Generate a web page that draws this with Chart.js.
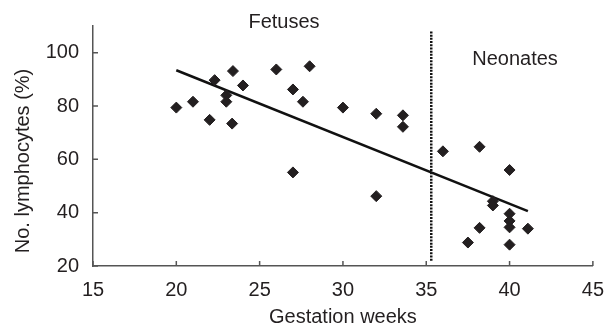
<!DOCTYPE html>
<html>
<head>
<meta charset="utf-8">
<script src="https://cdn.jsdelivr.net/npm/chart.js@4"></script>
<style>
  body { margin: 0; background: #fff; }
  canvas { display: block; }
</style>
</head>
<body>
<canvas id="lymph" width="616" height="331"></canvas>
<script>
// values
const weeks = [20, 21, 22, 22.3, 23.4, 23, 23, 23.35, 24, 26, 28, 27, 27.6, 27, 30, 32, 32, 33.6, 33.6,
               36, 38.2, 40, 39, 39, 40, 40, 40, 41.1, 38.2, 37.5, 40];
const lymphocytes = [79.4, 81.6, 74.8, 89.7, 93.1, 84.0, 81.6, 73.4, 87.7, 93.7, 94.9, 86.2, 81.6, 55.1, 79.4, 77.1, 46.2, 76.5, 72.2,
                     63.0, 64.7, 56.0, 44.3, 42.7, 39.6, 36.9, 34.5, 34.0, 34.3, 28.8, 28.0];
const trendWeeks = [20, 41.1];
const trendValues = [93.4, 40.6];
const dividerWeek = 35.3;
const dividerRange = [22, 108];
const xTicks = [15, 20, 25, 30, 35, 40, 45];
const yTicks = [20, 40, 60, 80, 100];
const groupLabels = ['Fetuses', 'Neonates'];

const ink = '#231f20';
const font = "'Liberation Sans', Arial, sans-serif";

// ticks in this figure point into the plot, so draw them by hand
const innerTicks = {
    id: 'innerTicks',
    afterDatasetsDraw(chart) {
        const ctx = chart.ctx;
        const {x, y} = chart.scales;
        ctx.save();
        ctx.strokeStyle = '#555';
        ctx.lineWidth = 1.5;
        ctx.beginPath();
        xTicks.forEach(v => {
            const px = x.getPixelForValue(v);
            ctx.moveTo(px, y.bottom);
            ctx.lineTo(px, y.bottom - 5);
        });
        yTicks.forEach(v => {
            const py = y.getPixelForValue(v);
            ctx.moveTo(x.left, py);
            ctx.lineTo(x.left + 5, py);
        });
        ctx.stroke();

        ctx.fillStyle = ink;
        ctx.font = '20px ' + font;
        ctx.textAlign = 'center';
        ctx.textBaseline = 'alphabetic';
        ctx.fillText(groupLabels[0], 284, 28);
        ctx.fillText(groupLabels[1], 515, 65);

        // y title sits a bit below the middle of the axis
        ctx.translate(29, 161);
        ctx.rotate(-Math.PI / 2);
        ctx.fillText('No. lymphocytes (%)', 0, 0);
        ctx.restore();
    }
};

new Chart(document.getElementById('lymph'), {
    type: 'scatter',
    data: {
        datasets: [{
            label: 'Lymphocytes',
            data: weeks.map((w, i) => ({x: w, y: lymphocytes[i]})),
            pointStyle: 'rectRot',
            pointRadius: 5.5,
            pointBackgroundColor: ink,
            pointBorderColor: ink,
            pointBorderWidth: 1
        }, {
            label: 'Trend',
            data: trendWeeks.map((w, i) => ({x: w, y: trendValues[i]})),
            showLine: true,
            pointRadius: 0,
            borderColor: '#111',
            borderWidth: 2.5
        }, {
            label: 'Divider',
            data: dividerRange.map(v => ({x: dividerWeek, y: v})),
            showLine: true,
            pointRadius: 0,
            borderColor: '#111',
            borderWidth: 2.5,
            borderDash: [2, 1.2]
        }]
    },
    options: {
        responsive: false,
        animation: false,
        layout: { padding: { top: 25, right: 12, left: 0, bottom: 0 } },
        plugins: { legend: { display: false }, tooltip: { enabled: false } },
        scales: {
            x: {
                min: 15,
                max: 45,
                afterBuildTicks: s => { s.ticks = xTicks.map(v => ({value: v})); },
                afterFit: s => { s.height = 65; },
                grid: { display: false, drawTicks: false },
                border: { display: true, color: '#555', width: 1.5 },
                ticks: { color: ink, padding: 12, font: { family: font, size: 20 } },
                title: {
                    display: true,
                    text: 'Gestation weeks',
                    color: ink,
                    padding: { top: 0, bottom: 2 },
                    font: { family: font, size: 20 }
                }
            },
            y: {
                min: 20,
                max: 110,
                afterBuildTicks: s => { s.ticks = yTicks.map(v => ({value: v})); },
                afterFit: s => { s.width = 93; },
                grid: { display: false, drawTicks: false },
                border: { display: true, color: '#555', width: 1.5 },
                ticks: { color: ink, padding: 14, font: { family: font, size: 20 } }
            }
        }
    },
    plugins: [innerTicks]
});
</script>
</body>
</html>
